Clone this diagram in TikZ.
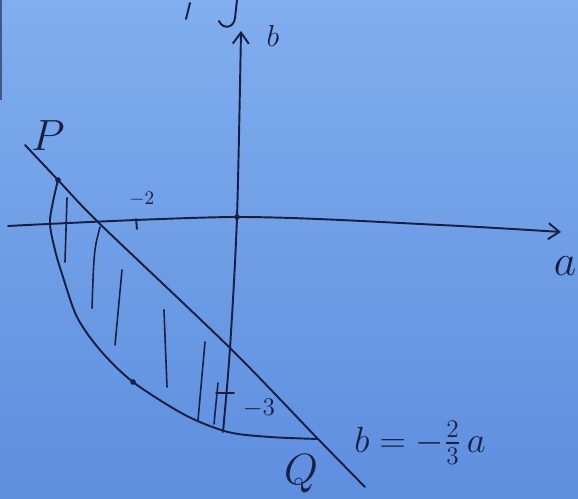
\documentclass[tikz,border=0pt]{standalone}
\usepackage{amsmath}
\usepackage{tikz}
\usetikzlibrary{arrows.meta, calc}

\definecolor{papertop}{RGB}{128,174,238}
\definecolor{paperbot}{RGB}{94,142,222}
\definecolor{ink}{RGB}{22,32,66}

\begin{document}
\begin{tikzpicture}[x=0.02cm, y=-0.02cm,
        pen/.style={ink, line width=1.1pt, line cap=round, line join=round},
        hatch/.style={ink, line width=0.9pt, line cap=round},
        axis/.style={pen, -{Straight Barb[length=2.2mm, width=3.2mm]}},
        dotmark/.style={circle, fill=ink, inner sep=0pt, minimum size=3.2pt},
        lbl/.style={text=ink, inner sep=1pt},
        big/.style={lbl, font=\fontsize{26}{28}\selectfont},
        small/.style={lbl, font=\fontsize{11}{12}\selectfont}
    ]

    % --- 1. PAPER ---
    \shade[top color=papertop, bottom color=paperbot] (0,0) rectangle (578,499);
    \useasboundingbox (0,0) rectangle (578,499);
    \fill[ink!60!papertop] (0,0) rectangle (2.5,100);

    % stray marks at the top
    \draw[pen] (186,19) -- (190,3);
    \draw[pen] (237,0) -- (235,18) .. controls (234,28) and (223,30) .. (219,21);

    % --- 2. AXES ---
    \coordinate (orig) at (237,217);
    \draw[axis] plot[smooth] coordinates {(8,226) (orig) (440,225) (561,232)};
    \draw[axis] plot[smooth] coordinates {(223,432) (230,348) (orig) (241,31)};

    \node[lbl, font=\fontsize{24}{26}\selectfont] (alab) at (565,266) {$a$};
    \node[lbl, font=\fontsize{17}{18}\selectfont] (blab) at (273,36) {$b$};

    % ticks
    \draw[pen] (136,219) -- (137,229);
    \node[small] (mtwo) at (142,199) {$-2$};
    \draw[pen] (216,393) -- (234,393);
    \node[lbl, font=\fontsize{14}{15}\selectfont] (mthree) at (259,408) {$-3$};

    % --- 3. LINE AND CURVE ---
    \coordinate (P) at (58,180);
    \coordinate (Q) at (318,439);
    \draw[pen] plot[smooth] coordinates {(25,145) (P) (100,224) (230,348) (Q) (365,487)};
    \draw[pen] plot[smooth] coordinates {(P) (50,220) (55,250) (63,277) (77,317)
        (100,350) (133,382) (185,415) (228,432) (270,437) (Q)};

    % hatching
    \draw[hatch] (67,198) -- (65,262);
    \draw[hatch] (100,227) .. controls (94,250) .. (92,308);
    \draw[hatch] (122,270) -- (115,345);
    \draw[hatch] (164,310) -- (167,387);
    \draw[hatch] (205,342) -- (198,420);
    \draw[hatch] (218,383) -- (214,424);

    % points
    \node[dotmark] (dP) at (P) {};
    \node[dotmark] (dO) at (orig) {};
    \node[dotmark] (dC) at (133,382) {};

    % --- 4. LABELS ---
    \node[big] (Plab) at (48,136) {$P$};
    \node[big] (Qlab) at (301,474) {$Q$};
    \node[lbl, font=\fontsize{20}{22}\selectfont] (eq) at (420,443) {$b=-\tfrac{2}{3}\,a$};

\end{tikzpicture}
\end{document}
